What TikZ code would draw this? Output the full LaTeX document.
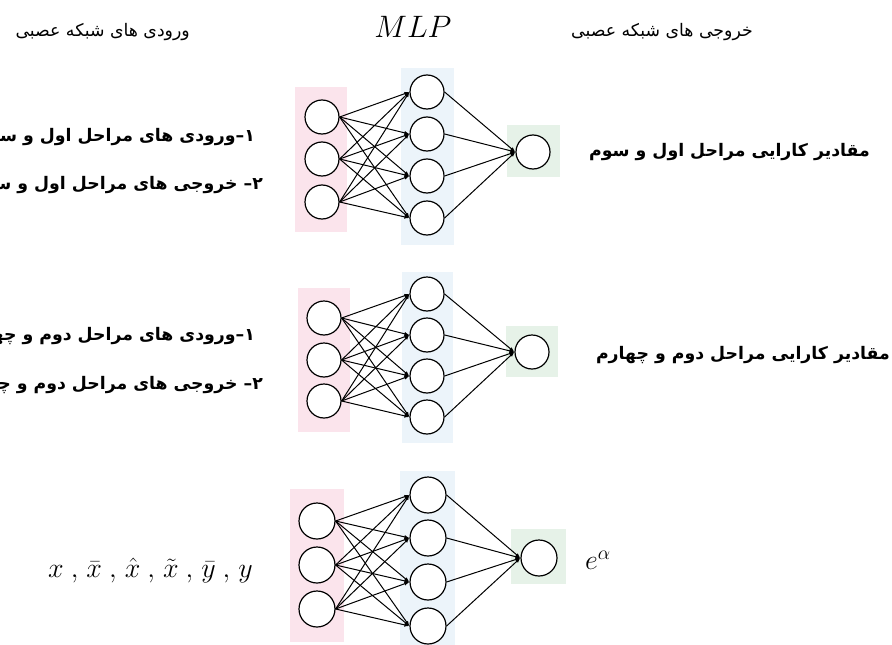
\documentclass[tikz,border=0pt]{standalone}
\usepackage{fix-cm}
\usepackage{fontspec}
\usetikzlibrary{arrows.meta}
\TeXXeTstate=1
\newfontfamily\fa[Script=Arabic]{DejaVu Sans}
\definecolor{pinkbg}{RGB}{251,228,236}
\definecolor{bluebg}{RGB}{236,244,250}
\definecolor{greenbg}{RGB}{230,242,232}
\begin{document}
\begin{tikzpicture}[x=1pt,y=-1pt,
  neuron/.style={circle,draw,line width=1.2pt,fill=white,minimum size=34pt,inner sep=0pt},
  bigneuron/.style={neuron,minimum size=36pt},
  conn/.style={line width=1pt,-{Latex[length=5pt,width=3.8pt]}},
  titletxt/.style={inner sep=0pt,font=\fa\fontsize{17.3}{20}\selectfont},
  rowtxt/.style={inner sep=0pt,font=\fa\bfseries\fontsize{17.3}{21}\selectfont},
  mathtxt/.style={inner sep=0pt,font=\fontsize{28}{32}\selectfont}]
\useasboundingbox (0,0) rectangle (892,645);
\clip (0,0) rectangle (892,645);
% ---------- network 1 ----------
\fill[pinkbg] (295,87) rectangle (347,232);
\fill[bluebg] (401,68) rectangle (454,245);
\fill[greenbg] (507,125) rectangle (560,177);
\foreach \y [count=\i] in {117,159,202} \node[neuron] (pa\i) at (322,\y) {};
\foreach \y [count=\i] in {92,134,176,218} \node[neuron] (pb\i) at (427,\y) {};
\node[neuron] (pc) at (533,152) {};
\foreach \i in {1,2,3} \foreach \j in {1,...,4} \draw[conn] (pa\i.east) -- (pb\j.west);
\foreach \j in {1,...,4} \draw[conn] (pb\j.east) -- (pc.west);
% ---------- network 2 ----------
\fill[pinkbg] (298,288) rectangle (350,432);
\fill[bluebg] (402,272) rectangle (453,443);
\fill[greenbg] (506,326) rectangle (558,377);
\foreach \y [count=\i] in {318,360,401} \node[neuron] (qa\i) at (324,\y) {};
\foreach \y [count=\i] in {294,335,376,417} \node[neuron] (qb\i) at (427,\y) {};
\node[neuron] (qc) at (532,352) {};
\foreach \i in {1,2,3} \foreach \j in {1,...,4} \draw[conn] (qa\i.east) -- (qb\j.west);
\foreach \j in {1,...,4} \draw[conn] (qb\j.east) -- (qc.west);
% ---------- network 3 ----------
\fill[pinkbg] (290,489) rectangle (344,642);
\fill[bluebg] (400,471) rectangle (455,645);
\fill[greenbg] (511,529) rectangle (566,584);
\foreach \y [count=\i] in {521,565,609} \node[bigneuron] (ra\i) at (317,\y) {};
\foreach \y [count=\i] in {495,538,582,626} \node[bigneuron] (rb\i) at (428,\y) {};
\node[bigneuron] (rc) at (539,558) {};
\foreach \i in {1,2,3} \foreach \j in {1,...,4} \draw[conn] (ra\i.east) -- (rb\j.west);
\foreach \j in {1,...,4} \draw[conn] (rb\j.east) -- (rc.west);
% ---------- titles ----------
\node[titletxt,anchor=east] (tin) at (190,32) {\beginR ورودی های شبکه عصبی\endR};
\node[inner sep=0pt,font=\fontsize{31}{36}\selectfont] (tmlp) at (413,27) {$MLP$};
\node[titletxt,anchor=east] (tout) at (753,32) {\beginR خروجی های شبکه عصبی\endR};
% ---------- row texts ----------
\node[rowtxt,anchor=east] (l1a) at (255,137) {\beginR ۱\kern0pt–\kern0pt ورودی های مراحل اول و سوم\endR};
\node[rowtxt,anchor=east] (l1b) at (263,185) {\beginR ۲\kern0pt– خروجی های مراحل اول و سوم\endR};
\node[rowtxt,anchor=east] (r1) at (870,152) {\beginR مقادیر کارایی مراحل اول و سوم\endR};
\node[rowtxt,anchor=east] (l2a) at (255,336) {\beginR ۱\kern0pt–\kern0pt ورودی های مراحل دوم و چهارم\endR};
\node[rowtxt,anchor=east] (l2b) at (263,385) {\beginR ۲\kern0pt– خروجی های مراحل دوم و چهارم\endR};
\node[rowtxt,anchor=east] (r2) at (890,355) {\beginR مقادیر کارایی مراحل دوم و چهارم\endR};
% ---------- row 3 math ----------
\node[mathtxt,anchor=east] (m3) at (253,570) {$x\mskip4.5mu,\mskip2.2mu\bar{x}\mskip4.5mu,\mskip2.2mu\hat{x}\mskip4.5mu,\mskip2.2mu\tilde{x}\mskip4.5mu,\mskip2.2mu\bar{y}\mskip4.5mu,\mskip2.2mu y$};
\node[mathtxt,anchor=west] (ea) at (585,560) {$e^{\alpha}$};
\end{tikzpicture}
\end{document}
